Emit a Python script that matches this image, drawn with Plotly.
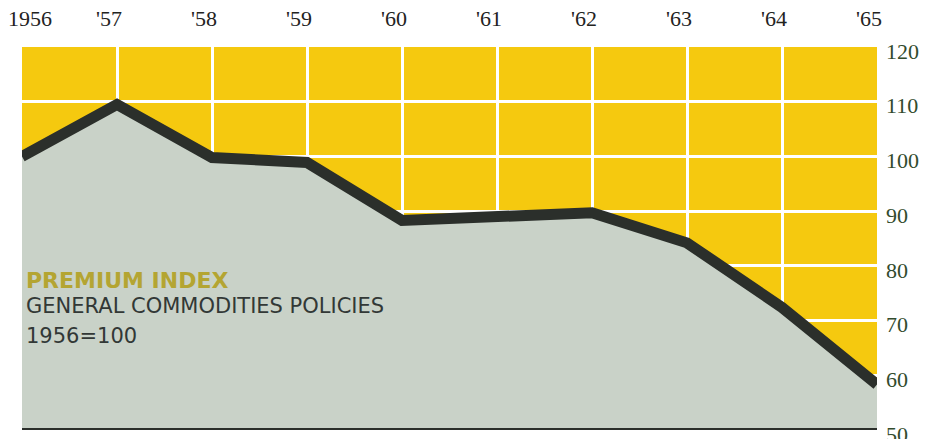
import plotly.graph_objects as go

# ---- data ----
years = [1956, 1957, 1958, 1959, 1960, 1961, 1962, 1963, 1964, 1965]
year_labels = ["1956", "'57", "'58", "'59", "'60", "'61", "'62", "'63", "'64", "'65"]
premium_index = [100, 109.5, 99.8, 98.9, 88.3, 88.9, 89.7, 84.2, 72.4, 58.3]
y_ticks = [50, 60, 70, 80, 90, 100, 110, 120]

YELLOW = "#F5C90F"
FILL = "#C9D2C8"
LINE = "#2B2F2B"

fig = go.Figure()
fig.add_trace(go.Scatter(
    x=years, y=premium_index, mode="lines",
    line=dict(color=LINE, width=11),
    fill="tozeroy", fillcolor=FILL,
    hoverinfo="skip", showlegend=False,
))

# top year labels (annotations through the x scale)
for i, (yr, lab) in enumerate(zip(years, year_labels)):
    fig.add_annotation(
        x=yr, xref="x", y=1, yref="paper", yanchor="middle",
        yshift=29, xshift=(8 if i == 0 else -8),
        text=lab, showarrow=False,
        font=dict(family="Liberation Serif", size=22, color="#23231E"),
    )

# caption block
plot_top, plot_bottom = 47, 430
def py(p):
    return (plot_bottom - p) / (plot_bottom - plot_top)

fig.add_annotation(x=0, xref="paper", xanchor="left", xshift=2, y=py(280), yref="paper",
                   yanchor="middle", text="<b>PREMIUM INDEX</b>", showarrow=False,
                   font=dict(family="DejaVu Sans", size=22, color="#B4A532"))
fig.add_annotation(x=0, xref="paper", xanchor="left", xshift=2, y=py(306), yref="paper",
                   yanchor="middle", text="GENERAL COMMODITIES POLICIES", showarrow=False,
                   font=dict(family="DejaVu Sans", size=21, color="#323836"))
fig.add_annotation(x=0, xref="paper", xanchor="left", xshift=2, y=py(336), yref="paper",
                   yanchor="middle", text="1956=100", showarrow=False,
                   font=dict(family="DejaVu Sans", size=21, color="#323836"))

# bottom baseline
fig.add_shape(type="line", xref="paper", x0=0, x1=1, yref="y", y0=50, y1=50,
              line=dict(color=LINE, width=4), layer="above")

fig.update_layout(
    width=938, height=439,
    margin=dict(l=22, r=61, t=47, b=9, autoexpand=False),
    paper_bgcolor="white", plot_bgcolor=YELLOW,
    xaxis=dict(range=[1956, 1965], tickvals=years, showticklabels=False,
               showgrid=True, gridcolor="white", gridwidth=3, zeroline=False,
               showline=False, ticks="", automargin=False),
    yaxis=dict(range=[50, 120], side="right", tickvals=y_ticks,
               showgrid=True, gridcolor="white", gridwidth=3, zeroline=False,
               showline=False, ticks="", ticklabelstandoff=8, ticklabelshift=4,
               ticklabeloverflow="allow", automargin=False,
               tickfont=dict(family="Liberation Serif", size=22, color="#324B2D")),
)

fig.write_html("out.html", config={"displayModeBar": False},
               post_script="document.body.style.margin='0';document.body.style.overflow='hidden';")
